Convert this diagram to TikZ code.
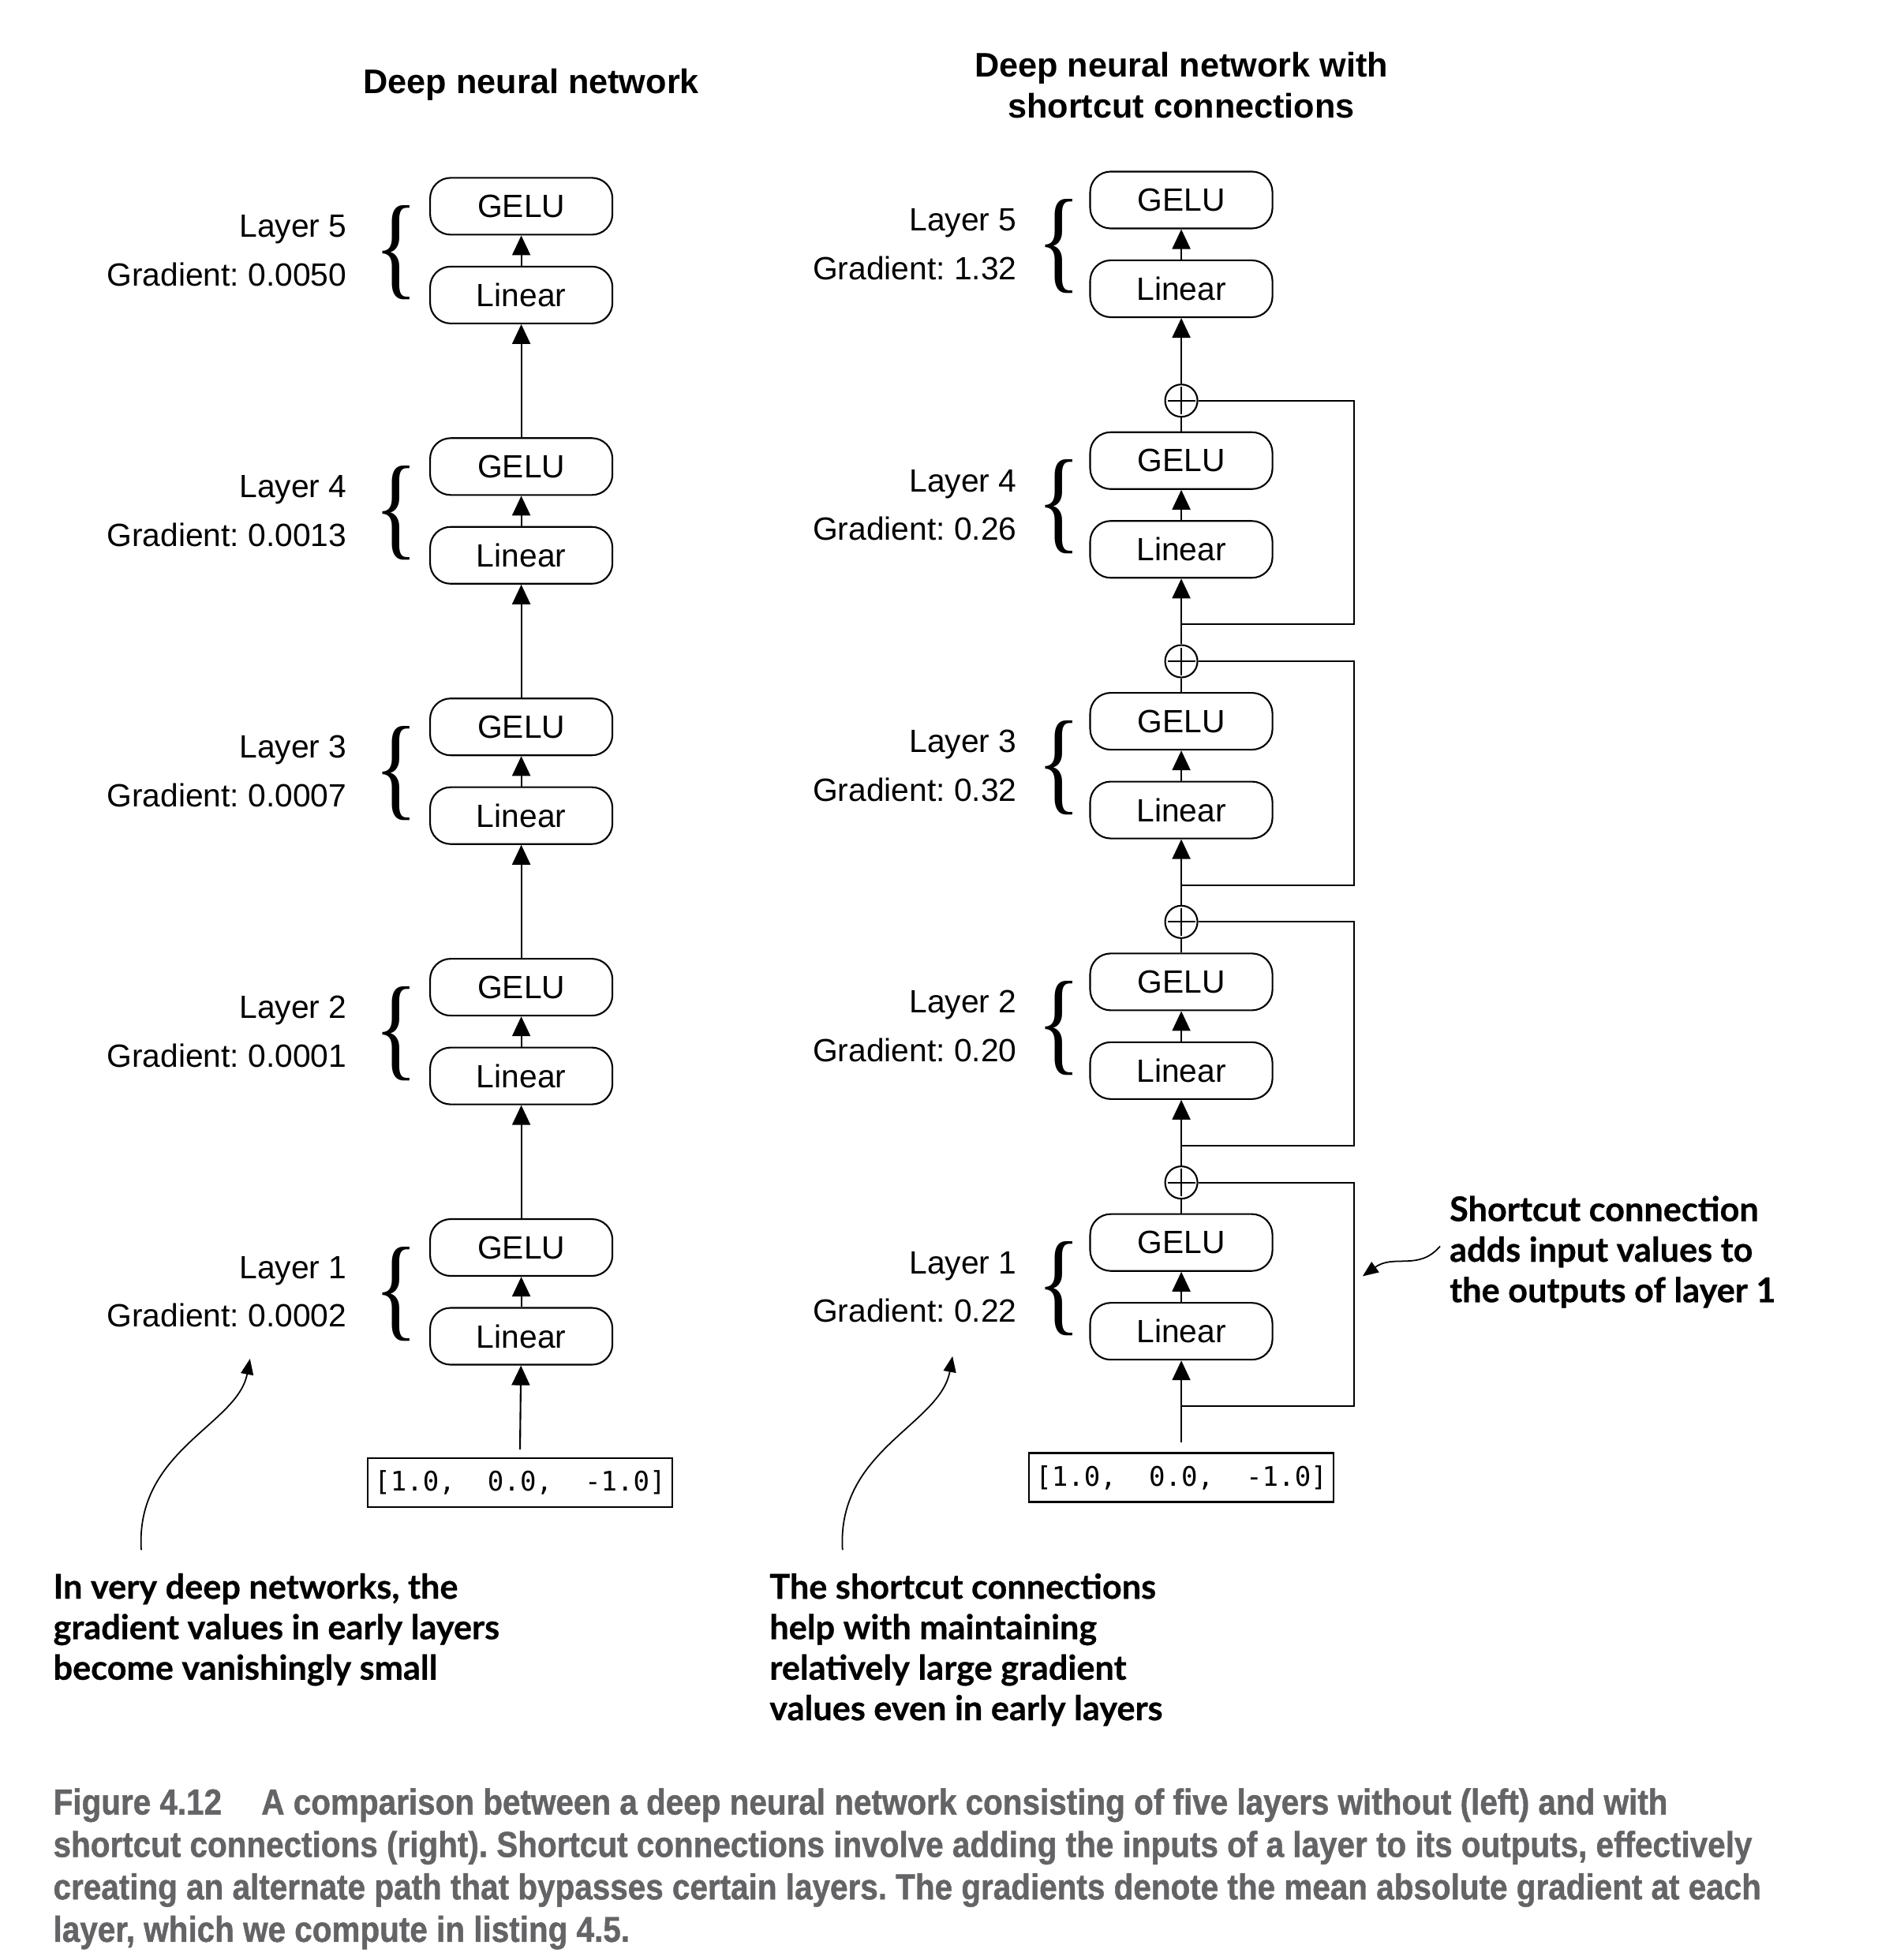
\documentclass[tikz,border=0pt]{standalone}
\usepackage{fontspec}
\setmainfont{Liberation Sans}
\setmonofont{DejaVu Sans Mono}
\newfontfamily\notefont[FakeBold=0.6]{Lato}
\newfontfamily\capfont[FakeStretch=0.885,FakeBold=1]{Liberation Sans}
\newfontfamily\bracefont{Liberation Serif}
\usetikzlibrary{arrows.meta,positioning,calc}
\definecolor{capgray}{RGB}{100,100,102}
\newcommand{\lbrc}{\scalebox{0.8}[1]{\bracefont\fontsize{41}{41}\selectfont\{}}

\begin{document}
\frenchspacing
\begin{tikzpicture}[x=0.01584cm, y=-0.01584cm,
  font=\fontsize{11.6}{14}\selectfont, >={Triangle[length=2.5mm,width=2.3mm]},
  line width=0.6pt,
  lay/.style={draw,rounded corners=2.6mm,minimum width=23.1mm,minimum height=7.2mm,inner sep=0pt},
  inp/.style={draw,minimum width=38.6mm,minimum height=6.2mm,inner sep=0pt,font=\ttfamily\fontsize{9.7}{11}\selectfont},
  add/.style={draw,circle,minimum size=4.1mm,inner sep=0pt,
    path picture={\draw[shorten >=0.3mm,shorten <=0.3mm] (path picture bounding box.north)--(path picture bounding box.south);
      \draw[shorten >=0.3mm,shorten <=0.3mm] (path picture bounding box.west)--(path picture bounding box.east);}},
  brc/.style={inner sep=0pt},
  lbl/.style={anchor=east,align=right,inner sep=0pt,font=\fontsize{11.6}{17.5}\selectfont},
  ttl/.style={align=center,font=\bfseries\fontsize{12.3}{14.8}\selectfont},
  note/.style={anchor=north west,align=left,inner sep=0pt,font=\notefont\bfseries\fontsize{12.3}{14.6}\selectfont},
  captext/.style={anchor=north west,align=left,inner sep=0pt,text=capgray,font=\capfont\bfseries\fontsize{13}{15.3}\selectfont},
  callarrow/.style={->,line width=0.5pt,>={Triangle[length=2mm,width=1.6mm]}}]
\useasboundingbox (0,0) rectangle (1514,1568);
% titles
\node[ttl] (lt) at (425,68) {Deep neural network};
\node[ttl] (rt) at (945,68) {Deep neural network with\\shortcut connections};
% plain network
\foreach \i/\g in {1/0.0002,2/0.0001,3/0.0007,4/0.0013,5/0.0050}{
  \pgfmathsetmacro\yg{998-(\i-1)*208.25}
  \node[lay] (lg\i) at (417,\yg) {GELU};
  \node[lay] (ll\i) at (417,\yg+71) {Linear};
  \draw[->] (ll\i) -- (lg\i);
  \node[brc] (lb\i) at (317,\yg+37) {\lbrc};
  \node[lbl] (lk\i) at (278,\yg+35.5) {Layer \i\\Gradient: \g};
}
\foreach \i [count=\j from 2] in {1,...,4} \draw[->] (lg\i) -- (ll\j);
\node[inp] (lin) at (416,1186) {[1.0,~~0.0,~~-1.0]};
\draw[->] ([yshift=1mm]lin.north) -- (ll1);
% network with shortcuts
\foreach \i/\g in {1/0.22,2/0.20,3/0.32,4/0.26,5/1.32}{
  \pgfmathsetmacro\yg{994-(\i-1)*208.5}
  \node[lay] (rg\i) at (945,\yg) {GELU};
  \node[lay] (rl\i) at (945,\yg+71) {Linear};
  \draw[->] (rl\i) -- (rg\i);
  \node[brc] (rb\i) at (847,\yg+37) {\lbrc};
  \node[lbl] (rk\i) at (814,\yg+35.5) {Layer \i\\Gradient: \g};
}
\foreach \i [count=\j from 2] in {1,...,4}{
  \pgfmathsetmacro\yp{946-(\i-1)*208.5}
  \node[add] (p\i) at (945,\yp) {};
  \coordinate (sc\i) at (1083,\yp+179);
  \draw (rg\i) -- (p\i);
  \draw[->] (p\i) -- (rl\j);
  \draw (p\i.east) -| (sc\i) -- (sc\i -| rl\i.south);
}
\node[inp] (rin) at (945,1182) {[1.0,~~0.0,~~-1.0]};
\draw[->] ([yshift=1.2mm]rin.north) -- (rl1);
% annotations
\node[note] (ln) at (42,1258) {In very deep networks, the\\gradient values in early layers\\become vanishingly small};
\node[note] (rn) at (615,1258) {The shortcut connections\\help with maintaining\\relatively large gradient\\values even in early layers};
\node[note] (sn) at (1159,956) {Shortcut connection\\adds input values to\\the outputs of layer 1};
\coordinate (la0) at (113,1240); \coordinate (la1) at (200,1087);
\coordinate (ra0) at (674,1240); \coordinate (ra1) at (762,1085);
\coordinate (sa0) at (1152,997); \coordinate (sa1) at (1090,1021);
\draw[callarrow] (la0) .. controls (108,1160) and (190,1140) .. (la1);
\draw[callarrow] (ra0) .. controls (669,1160) and (752,1140) .. (ra1);
\draw[callarrow] (sa0) .. controls (1135,1017) and (1115,1003) .. (sa1);
% caption
\node[captext] (cp) at (42,1430) {Figure 4.12\hspace{1.1em}A comparison between a deep neural network consisting of five layers without (left) and with\\
shortcut connections (right). Shortcut connections involve adding the inputs of a layer to its outputs, effectively\\
creating an alternate path that bypasses certain layers. The gradients denote the mean absolute gradient at each\\
layer, which we compute in listing 4.5.};
\end{tikzpicture}
\end{document}
